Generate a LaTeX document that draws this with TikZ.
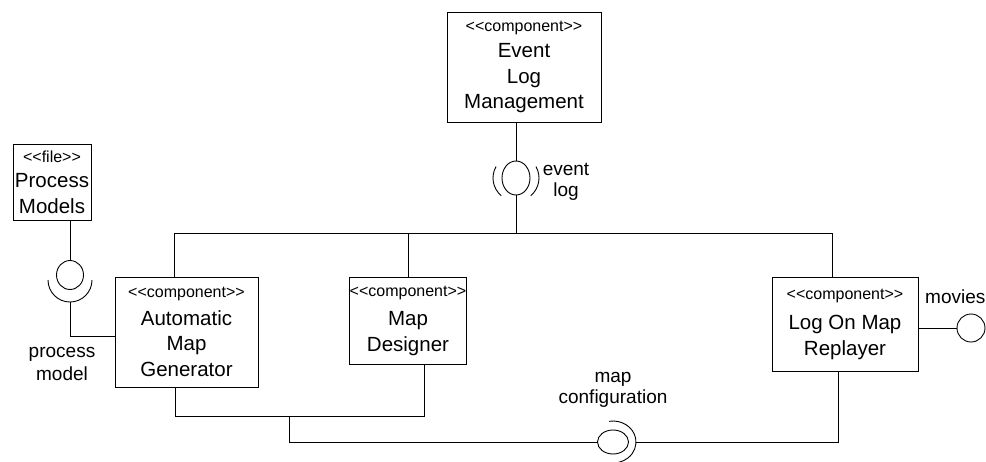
\documentclass[tikz,border=0pt]{standalone}
\usepackage{fontspec}
\setmainfont{Liberation Sans}
\usetikzlibrary{shapes.geometric,calc}
\newcommand\stereo[1]{{\fontsize{16}{19}\selectfont<\kern0pt<#1>\kern0pt>}}
\begin{document}
\begin{tikzpicture}[x=1pt,y=1pt,
  box/.style={draw, line width=0.9pt, rectangle, inner sep=0pt, align=center, font=\fontsize{20.5}{25.5}\selectfont},
  ball/.style={draw, line width=0.9pt, ellipse, inner sep=0pt},
  wire/.style={line width=0.9pt},
  lbl/.style={font=\fontsize{19}{20.5}\selectfont, align=center, inner sep=0pt}]
\useasboundingbox (0,0) rectangle (986,-461);

% components
\node[box, minimum width=154, minimum height=110] (elm) at (524,-67) {\stereo{component}\\[1pt]Event\\Log\\Management};
\node[box, minimum width=78, minimum height=76] (pm) at (52,-182) {\stereo{file}\\Process\\Models};
\node[box, minimum width=143, minimum height=110] (amg) at (186.5,-332) {\stereo{component}\\[2pt]Automatic\\Map\\Generator};
\node[box, minimum width=108, minimum height=87] (md) at (408,-320.5) {\stereo{component}\\[4pt]Map\\Designer};
\node[box, minimum width=146, minimum height=94] (lomr) at (845,-324) {\stereo{component}\\[5pt]Log On Map\\Replayer};

% interface balls
\node[ball, minimum width=28, minimum height=34] (el) at (516,-178) {};
\node[ball, minimum width=27, minimum height=29] (pmi) at (70,-275) {};
\node[ball, minimum width=31, minimum height=24] (mc) at (613,-442) {};
\node[ball, minimum width=28, minimum height=28] (mv) at (971,-328) {};

% sockets
\draw[wire] ([shift={(150:23)}]el.center) arc[start angle=150, end angle=230, radius=23];
\draw[wire] ([shift={(-50:23)}]el.center) arc[start angle=-50, end angle=30, radius=23];
\coordinate (pmsk) at (70,-280);
\draw[wire] ([shift={(180:22)}]pmsk) arc[start angle=180, end angle=360, radius=22];
\draw[wire] ([shift={(100:23 and 21)}]mc.center) arc[start angle=100, end angle=-100, x radius=23, y radius=21];

% event log bus
\coordinate (bl) at (174,-233);
\coordinate (br) at (832,-233);
\draw[wire] (bl) -- (br);
\draw[wire] (bl) -- (bl |- amg.north);
\draw[wire] (md.north |- bl) -- (md.north);
\draw[wire] (br) -- (br |- lomr.north);
\draw[wire] (el.north) -- (el.north |- elm.south);
\draw[wire] (el.south) -- (el.south |- bl);

% process models
\draw[wire] (pmi.north) -- (pmi.north |- pm.south);
\coordinate (pmbot) at (70,-302);
\coordinate (pmk) at (70,-336);
\draw[wire] (pmbot) -- (pmk) -- (pmk -| amg.west);

% map configuration
\coordinate (ab) at (175,-416);
\coordinate (mb) at (424,-416);
\draw[wire] (amg.south -| ab) -- (ab) -- (mb) -- (mb |- md.south);
\coordinate (mcj) at (289,-416);
\draw[wire] (mcj) |- (mc.west);
\coordinate (lb) at (838,-442);
\coordinate (mcr) at (636,-442);
\draw[wire] (mcr) -- (lb) -- (lb |- lomr.south);

% movies
\draw[wire] (mv.west) -- (mv.west -| lomr.east);

% labels
\node[lbl] (ell) at (566,-182) {event\\log};
\node[lbl, font=\fontsize{19}{23}\selectfont] (pml) at (62,-363.5) {process\\model};
\node[lbl] (mcl) at (613,-390) {map\\configuration};
\node[lbl, anchor=base west] (mvl) at (925,-303) {movies};
\end{tikzpicture}
\end{document}
